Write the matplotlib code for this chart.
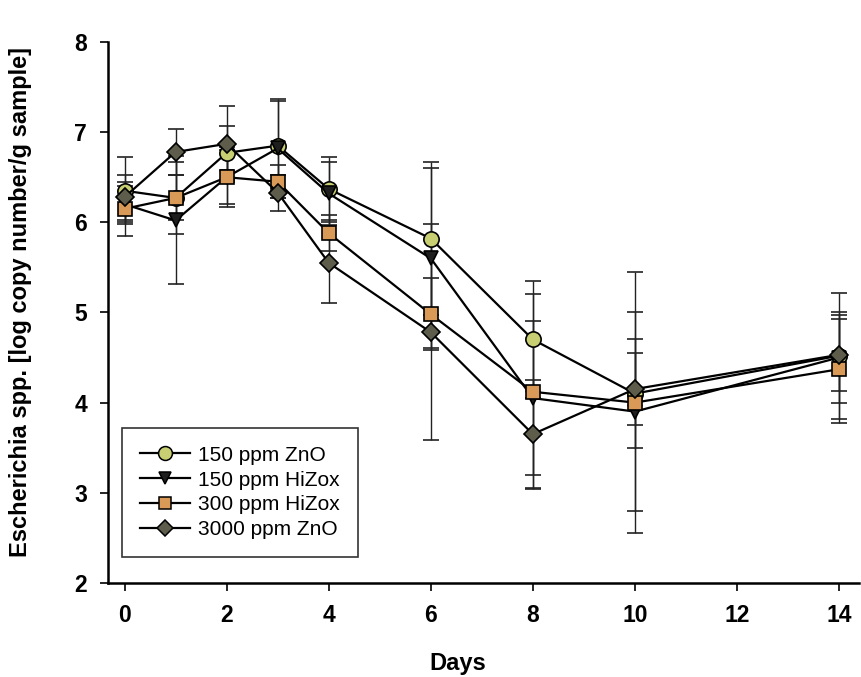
import matplotlib.pyplot as plt
from matplotlib.lines import Line2D

plt.rcParams['font.family'] = ['Liberation Sans', 'DejaVu Sans']

days = [0, 1, 2, 3, 4, 6, 8, 10, 14]

zno150 = [6.35, 6.27, 6.77, 6.85, 6.37, 5.82, 4.70, 4.10, 4.52]
zno150_err = [0.37, 0.25, 0.30, 0.50, 0.35, 0.85, 0.65, 0.60, 0.70]

hizox150 = [6.20, 6.02, 6.50, 6.82, 6.32, 5.60, 4.05, 3.90, 4.50]
hizox150_err = [0.20, 0.71, 0.30, 0.55, 0.35, 1.00, 0.85, 1.10, 0.50]

hizox300 = [6.15, 6.27, 6.50, 6.45, 5.88, 4.98, 4.12, 4.00, 4.37]
hizox300_err = [0.30, 0.40, 0.33, 0.18, 0.20, 0.40, 1.08, 1.45, 0.60]

zno3000 = [6.28, 6.78, 6.87, 6.33, 5.55, 4.78, 3.65, 4.15, 4.53]
zno3000_err = [0.25, 0.25, 0.42, 0.20, 0.45, 1.20, 0.60, 0.40, 0.40]

labels = ['150 ppm ZnO', '150 ppm HiZox', '300 ppm HiZox', '3000 ppm ZnO']

fig = plt.figure(figsize=(8.62, 6.77), dpi=100)
ax = fig.add_axes([0.125, 0.139, 0.872, 0.799])

series = [
    (zno150, zno150_err, 'o', '#c8cf72', 11),
    (hizox150, hizox150_err, 'v', '#1e1e1e', 10),
    (hizox300, hizox300_err, 's', '#d99a58', 10),
    (zno3000, zno3000_err, 'D', '#5e5d4c', 9),
]

handles = []
for (vals, err, mk, col, ms), lab in zip(series, labels):
    ax.errorbar(days, vals, yerr=err, color='black', lw=1.6, marker=mk,
                markersize=ms, markerfacecolor=col, markeredgecolor='black',
                markeredgewidth=1.2, ecolor='#222222', elinewidth=1.0,
                capsize=6, capthick=1.0)
    handles.append(Line2D([], [], color='black', lw=1.6, marker=mk,
                          markersize=ms - 1, markerfacecolor=col,
                          markeredgecolor='black', markeredgewidth=1.1,
                          label=lab))

ax.set_xlim(-0.33, 14.4)
ax.set_ylim(2, 8)
ax.set_xticks([0, 2, 4, 6, 8, 10, 12, 14])
ax.set_yticks([2, 3, 4, 5, 6, 7, 8])
ax.spines['top'].set_visible(False)
ax.spines['right'].set_visible(False)
ax.spines['left'].set_linewidth(1.8)
ax.spines['bottom'].set_linewidth(1.8)
ax.tick_params(direction='out', length=6, width=1.2, labelsize=16.5, pad=9)
for t in ax.get_xticklabels() + ax.get_yticklabels():
    t.set_fontweight('bold')

ax.set_xlabel('Days', fontsize=17, fontweight='bold')
ax.set_ylabel('Escherichia spp. [log copy number/g sample]', fontsize=17,
              fontweight='bold')
ax.xaxis.set_label_coords(0.465, -0.128)
ax.yaxis.set_label_coords(-0.101, 0.52)

leg = ax.legend(handles=handles, loc='lower left',
                bbox_to_anchor=(0.019, 0.048), borderaxespad=0,
                fontsize=15, frameon=True, fancybox=False,
                edgecolor='black', handlelength=2.4, borderpad=0.85,
                labelspacing=0.28, handletextpad=0.4)
leg.get_frame().set_linewidth(1.2)

fig.savefig('out.png', dpi=100)
